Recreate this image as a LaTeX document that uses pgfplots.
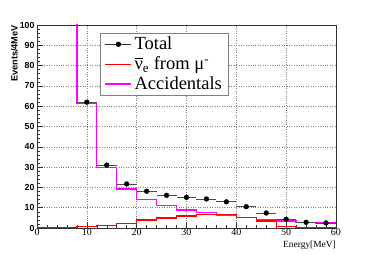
\documentclass[border=0pt]{standalone}
\usepackage{fontspec}
\setmainfont{Liberation Serif}
\newfontfamily\helv{Liberation Sans}
\usepackage{pgfplots}
\pgfplotsset{compat=1.18}
\definecolor{rootmag}{RGB}{255,0,255}
\definecolor{rootred}{RGB}{255,0,0}
\begin{document}
\begin{tikzpicture}[x=1pt,y=1pt]
\begin{axis}[
  at={(37pt,26pt)}, anchor=south west,
  scale only axis, width=299pt, height=203pt,
  xmin=0, xmax=60, ymin=0, ymax=100,
  xtick={0,10,...,60}, ytick={0,10,...,100},
  minor x tick num=4, minor y tick num=4,
  tick align=inside, xtick pos=bottom, ytick pos=left,
  major tick length=6pt, minor tick length=3pt,
  tick style={black!80, line width=0.5pt},
  axis line style={black!80, line width=0.8pt},
  grid=major, major grid style={dotted, gray, line width=0.5pt},
  /pgf/number format/assume math mode=true,
  xticklabel style={font=\fontsize{10}{12}\selectfont, inner sep=1pt},
  yticklabel style={font=\helv\bfseries\fontsize{8.8}{10}\selectfont, xshift=1pt},
  xlabel={Energy[MeV]},
  xlabel style={at={(rel axis cs:1,0)}, anchor=north east, yshift=-12.5pt, inner sep=0pt, font=\fontsize{9.4}{11}\selectfont},
  clip=true,
  legend image code/.code={\draw[mark repeat=2,mark phase=2] plot coordinates {(0pt,0pt) (13pt,0pt) (26pt,0pt)};},
  legend style={at={(rel axis cs:0.212,0.962)}, anchor=north west, draw=gray, line width=0.8pt,
    font=\fontsize{18.5}{20}\selectfont, row sep=1.5pt, inner xsep=4pt, inner ysep=2pt,
    nodes={inner xsep=2.5pt}},
  legend cell align=left,
]
\coordinate (TL) at (rel axis cs:0,1);
\addplot[const plot, rootmag, line width=1.3pt, forget plot] coordinates {
 (8,120) (8,61.5) (12,29.7) (16,19.2) (20,14.1) (24,11.0) (28,8.9) (32,7.7)
 (36,6.4) (40,5.2) (44,3.9) (48,3.4) (52,2.6) (56,2.5) (60,2.5)};
\addplot[const plot, rootred, line width=1.3pt, forget plot] coordinates {
 (0,0.1) (4,0.2) (8,0.6) (12,1.4) (16,2.3) (20,3.9) (24,4.9) (28,5.9) (32,6.7)
 (36,6.5) (40,5.2) (44,3.4) (48,0.8) (52,0.2) (56,0.1) (60,0.1)};
\addplot[only marks, mark=*, mark size=2.4pt, black, forget plot,
  error bars/.cd, x dir=both, x explicit, error bar style={black!70, line width=0.7pt}, error mark=none]
 coordinates {
 (10,62) +- (2,0) (14,31) +- (2,0) (18,21.7) +- (2,0) (22,18.1) +- (2,0)
 (26,16.1) +- (2,0) (30,15.1) +- (2,0) (34,14.3) +- (2,0) (38,12.9) +- (2,0)
 (42,10.5) +- (2,0) (46,7.4) +- (2,0) (50,4.3) +- (2,0) (54,2.8) +- (2,0) (58,2.5) +- (2,0)};
\addlegendimage{black!80, line width=0.8pt, mark=*, mark size=2.2pt, mark options={black}}
\addlegendentry{Total}
\addlegendimage{rootred, line width=1.3pt}
\addlegendentry{\rlap{\raisebox{0.62em}{\rule{0.48em}{0.05em}}}ν\textsubscript{e} from μ\textsuperscript{-}}
\addlegendimage{rootmag, line width=1.3pt}
\addlegendentry{Accidentals\hspace{15pt}}
\end{axis}
\node[rotate=90, anchor=south east, inner sep=0pt, font=\helv\bfseries\fontsize{9.2}{11}\selectfont] at ([xshift=-19pt]TL) {Events/4MeV};
\pgfresetboundingbox
\path (0,0) rectangle (374pt,254pt);
\end{tikzpicture}
\end{document}
